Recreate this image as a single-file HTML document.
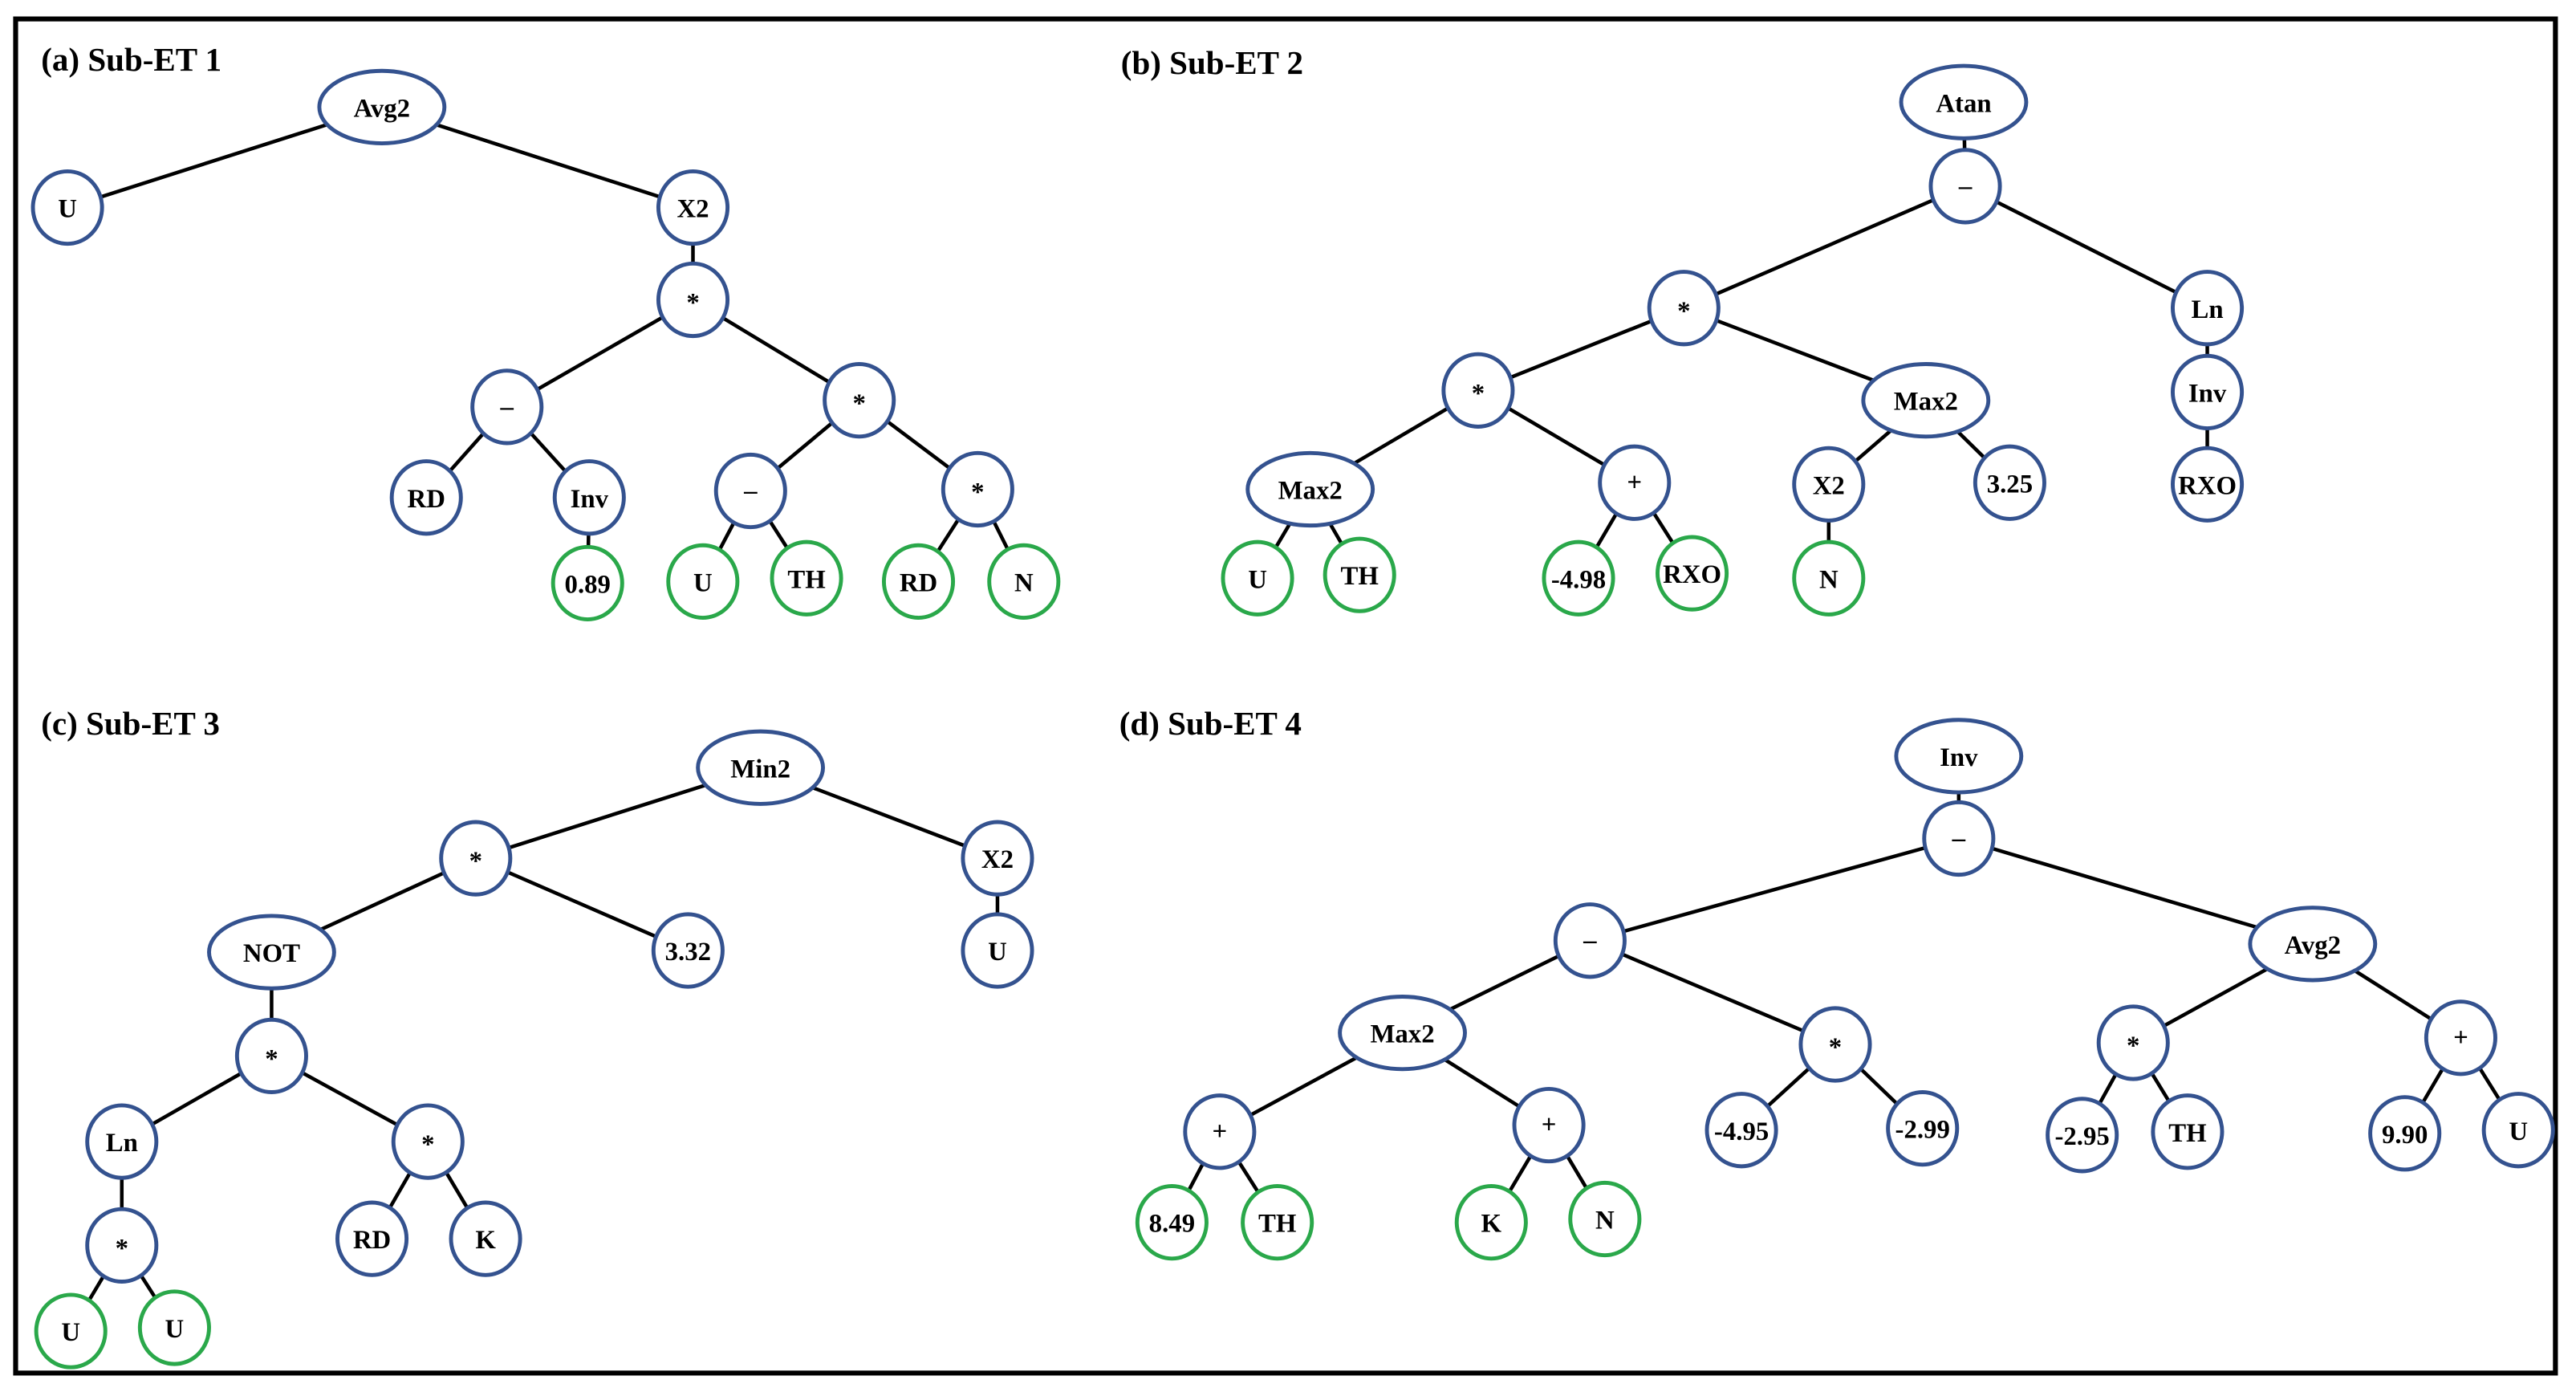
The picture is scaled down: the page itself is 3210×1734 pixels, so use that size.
<!DOCTYPE html>
<html><head><meta charset="utf-8"><style>
html,body{margin:0;padding:0;background:#fff;}
svg{display:block;}
.e{fill:#fff;stroke:#34528f;stroke-width:2.4;}
.g{fill:#fff;stroke:#2aa84a;stroke-width:2.4;}
line{stroke:#000;stroke-width:2.2;}
text{font-family:"Liberation Serif",serif;font-weight:bold;font-size:16px;text-anchor:middle;dominant-baseline:central;fill:#000;}
.t{font-size:20px;text-anchor:start;}
</style></head><body>
<svg width="3210" height="1734" viewBox="0 0 1565 845" preserveAspectRatio="none" xmlns="http://www.w3.org/2000/svg">
<rect x="9.5" y="11.5" width="1543" height="822" fill="none" stroke="#000" stroke-width="3"/>
<text class="t" x="25" y="36">(a) Sub-ET 1</text>
<text class="t" x="681" y="38">(b) Sub-ET 2</text>
<text class="t" x="25" y="439">(c) Sub-ET 3</text>
<text class="t" x="680" y="439">(d) Sub-ET 4</text>
<g>
<!-- a edges -->
<line x1="232" y1="65" x2="41" y2="126"/><line x1="232" y1="65" x2="421" y2="126"/>
<line x1="421" y1="126" x2="421" y2="182"/>
<line x1="421" y1="182" x2="308" y2="247"/><line x1="421" y1="182" x2="522" y2="243"/>
<line x1="308" y1="247" x2="259" y2="302"/><line x1="308" y1="247" x2="358" y2="302"/>
<line x1="358" y1="302" x2="357" y2="354"/>
<line x1="522" y1="243" x2="456" y2="298"/><line x1="522" y1="243" x2="594" y2="297"/>
<line x1="456" y1="298" x2="427" y2="353"/><line x1="456" y1="298" x2="490" y2="351"/>
<line x1="594" y1="297" x2="558" y2="353"/><line x1="594" y1="297" x2="622" y2="353"/>
<!-- b edges -->
<line x1="1193" y1="62" x2="1194" y2="113"/>
<line x1="1194" y1="113" x2="1023" y2="187"/><line x1="1194" y1="113" x2="1341" y2="187"/>
<line x1="1023" y1="187" x2="898" y2="237"/><line x1="1023" y1="187" x2="1170" y2="243"/>
<line x1="1341" y1="187" x2="1341" y2="294"/>
<line x1="898" y1="237" x2="796" y2="297"/><line x1="898" y1="237" x2="993" y2="293"/>
<line x1="1170" y1="243" x2="1111" y2="294"/><line x1="1170" y1="243" x2="1221" y2="293"/>
<line x1="796" y1="297" x2="764" y2="351"/><line x1="796" y1="297" x2="826" y2="349"/>
<line x1="993" y1="293" x2="959" y2="351"/><line x1="993" y1="293" x2="1028" y2="348"/>
<line x1="1111" y1="294" x2="1111" y2="351"/>
<!-- c edges -->
<line x1="462" y1="466" x2="289" y2="521"/><line x1="462" y1="466" x2="606" y2="521"/>
<line x1="606" y1="521" x2="606" y2="577"/>
<line x1="289" y1="521" x2="165" y2="578"/><line x1="289" y1="521" x2="418" y2="577"/>
<line x1="165" y1="578" x2="165" y2="641"/>
<line x1="165" y1="641" x2="74" y2="693"/><line x1="165" y1="641" x2="260" y2="693"/>
<line x1="74" y1="693" x2="74" y2="756"/>
<line x1="260" y1="693" x2="226" y2="752"/><line x1="260" y1="693" x2="295" y2="752"/>
<line x1="74" y1="756" x2="43" y2="808"/><line x1="74" y1="756" x2="106" y2="806"/>
<!-- d edges -->
<line x1="1190" y1="459" x2="1190" y2="509"/>
<line x1="1190" y1="509" x2="966" y2="571"/><line x1="1190" y1="509" x2="1405" y2="573"/>
<line x1="966" y1="571" x2="852" y2="627"/><line x1="966" y1="571" x2="1115" y2="634"/>
<line x1="1405" y1="573" x2="1296" y2="633"/><line x1="1405" y1="573" x2="1495" y2="630"/>
<line x1="852" y1="627" x2="741" y2="687"/><line x1="852" y1="627" x2="941" y2="683"/>
<line x1="1115" y1="634" x2="1058" y2="686"/><line x1="1115" y1="634" x2="1168" y2="685"/>
<line x1="1296" y1="633" x2="1265" y2="689"/><line x1="1296" y1="633" x2="1329" y2="687"/>
<line x1="1495" y1="630" x2="1461" y2="688"/><line x1="1495" y1="630" x2="1530" y2="686"/>
<line x1="741" y1="687" x2="712" y2="742"/><line x1="741" y1="687" x2="776" y2="742"/>
<line x1="941" y1="683" x2="906" y2="742"/><line x1="941" y1="683" x2="975" y2="740"/>
</g>
<!-- a nodes -->
<ellipse class="e" cx="232" cy="65" rx="38" ry="22"/><text x="232" y="66">Avg2</text>
<ellipse class="e" cx="41" cy="126" rx="21" ry="22"/><text x="41" y="127">U</text>
<ellipse class="e" cx="421" cy="126" rx="21" ry="22"/><text x="421" y="127">X2</text>
<ellipse class="e" cx="421" cy="182" rx="21" ry="22"/><text x="421" y="184">*</text>
<ellipse class="e" cx="308" cy="247" rx="21" ry="22"/><text x="308" y="247">–</text>
<ellipse class="e" cx="522" cy="243" rx="21" ry="22"/><text x="522" y="245">*</text>
<ellipse class="e" cx="259" cy="302" rx="21" ry="22"/><text x="259" y="303">RD</text>
<ellipse class="e" cx="358" cy="302" rx="21" ry="22"/><text x="358" y="303">Inv</text>
<ellipse class="g" cx="357" cy="354" rx="21" ry="22"/><text x="357" y="355">0.89</text>
<ellipse class="e" cx="456" cy="298" rx="21" ry="22"/><text x="456" y="298">–</text>
<ellipse class="e" cx="594" cy="297" rx="21" ry="22"/><text x="594" y="299">*</text>
<ellipse class="g" cx="427" cy="353" rx="21" ry="22"/><text x="427" y="354">U</text>
<ellipse class="g" cx="490" cy="351" rx="21" ry="22"/><text x="490" y="352">TH</text>
<ellipse class="g" cx="558" cy="353" rx="21" ry="22"/><text x="558" y="354">RD</text>
<ellipse class="g" cx="622" cy="353" rx="21" ry="22"/><text x="622" y="354">N</text>
<!-- b nodes -->
<ellipse class="e" cx="1193" cy="62" rx="38" ry="22"/><text x="1193" y="63">Atan</text>
<ellipse class="e" cx="1194" cy="113" rx="21" ry="22"/><text x="1194" y="113">–</text>
<ellipse class="e" cx="1023" cy="187" rx="21" ry="22"/><text x="1023" y="189">*</text>
<ellipse class="e" cx="1341" cy="187" rx="21" ry="22"/><text x="1341" y="188">Ln</text>
<ellipse class="e" cx="898" cy="237" rx="21" ry="22"/><text x="898" y="239">*</text>
<ellipse class="e" cx="1170" cy="243" rx="38" ry="22"/><text x="1170" y="244">Max2</text>
<ellipse class="e" cx="1341" cy="238" rx="21" ry="22"/><text x="1341" y="239">Inv</text>
<ellipse class="e" cx="796" cy="297" rx="38" ry="22"/><text x="796" y="298">Max2</text>
<ellipse class="e" cx="993" cy="293" rx="21" ry="22"/><text x="993" y="293">+</text>
<ellipse class="e" cx="1111" cy="294" rx="21" ry="22"/><text x="1111" y="295">X2</text>
<ellipse class="e" cx="1221" cy="293" rx="21" ry="22"/><text x="1221" y="294">3.25</text>
<ellipse class="e" cx="1341" cy="294" rx="21" ry="22"/><text x="1341" y="295">RXO</text>
<ellipse class="g" cx="764" cy="351" rx="21" ry="22"/><text x="764" y="352">U</text>
<ellipse class="g" cx="826" cy="349" rx="21" ry="22"/><text x="826" y="350">TH</text>
<ellipse class="g" cx="959" cy="351" rx="21" ry="22"/><text x="959" y="352">-4.98</text>
<ellipse class="g" cx="1028" cy="348" rx="21" ry="22"/><text x="1028" y="349">RXO</text>
<ellipse class="g" cx="1111" cy="351" rx="21" ry="22"/><text x="1111" y="352">N</text>
<!-- c nodes -->
<ellipse class="e" cx="462" cy="466" rx="38" ry="22"/><text x="462" y="467">Min2</text>
<ellipse class="e" cx="289" cy="521" rx="21" ry="22"/><text x="289" y="523">*</text>
<ellipse class="e" cx="606" cy="521" rx="21" ry="22"/><text x="606" y="522">X2</text>
<ellipse class="e" cx="165" cy="578" rx="38" ry="22"/><text x="165" y="579">NOT</text>
<ellipse class="e" cx="418" cy="577" rx="21" ry="22"/><text x="418" y="578">3.32</text>
<ellipse class="e" cx="606" cy="577" rx="21" ry="22"/><text x="606" y="578">U</text>
<ellipse class="e" cx="165" cy="641" rx="21" ry="22"/><text x="165" y="643">*</text>
<ellipse class="e" cx="74" cy="693" rx="21" ry="22"/><text x="74" y="694">Ln</text>
<ellipse class="e" cx="260" cy="693" rx="21" ry="22"/><text x="260" y="695">*</text>
<ellipse class="e" cx="74" cy="756" rx="21" ry="22"/><text x="74" y="758">*</text>
<ellipse class="e" cx="226" cy="752" rx="21" ry="22"/><text x="226" y="753">RD</text>
<ellipse class="e" cx="295" cy="752" rx="21" ry="22"/><text x="295" y="753">K</text>
<ellipse class="g" cx="43" cy="808" rx="21" ry="22"/><text x="43" y="809">U</text>
<ellipse class="g" cx="106" cy="806" rx="21" ry="22"/><text x="106" y="807">U</text>
<!-- d nodes -->
<ellipse class="e" cx="1190" cy="459" rx="38" ry="22"/><text x="1190" y="460">Inv</text>
<ellipse class="e" cx="1190" cy="509" rx="21" ry="22"/><text x="1190" y="509">–</text>
<ellipse class="e" cx="966" cy="571" rx="21" ry="22"/><text x="966" y="571">–</text>
<ellipse class="e" cx="1405" cy="573" rx="38" ry="22"/><text x="1405" y="574">Avg2</text>
<ellipse class="e" cx="852" cy="627" rx="38" ry="22"/><text x="852" y="628">Max2</text>
<ellipse class="e" cx="1115" cy="634" rx="21" ry="22"/><text x="1115" y="636">*</text>
<ellipse class="e" cx="1296" cy="633" rx="21" ry="22"/><text x="1296" y="635">*</text>
<ellipse class="e" cx="1495" cy="630" rx="21" ry="22"/><text x="1495" y="630">+</text>
<ellipse class="e" cx="741" cy="687" rx="21" ry="22"/><text x="741" y="687">+</text>
<ellipse class="e" cx="941" cy="683" rx="21" ry="22"/><text x="941" y="683">+</text>
<ellipse class="e" cx="1058" cy="686" rx="21" ry="22"/><text x="1058" y="687">-4.95</text>
<ellipse class="e" cx="1168" cy="685" rx="21" ry="22"/><text x="1168" y="686">-2.99</text>
<ellipse class="e" cx="1265" cy="689" rx="21" ry="22"/><text x="1265" y="690">-2.95</text>
<ellipse class="e" cx="1329" cy="687" rx="21" ry="22"/><text x="1329" y="688">TH</text>
<ellipse class="e" cx="1461" cy="688" rx="21" ry="22"/><text x="1461" y="689">9.90</text>
<ellipse class="e" cx="1530" cy="686" rx="21" ry="22"/><text x="1530" y="687">U</text>
<ellipse class="g" cx="712" cy="742" rx="21" ry="22"/><text x="712" y="743">8.49</text>
<ellipse class="g" cx="776" cy="742" rx="21" ry="22"/><text x="776" y="743">TH</text>
<ellipse class="g" cx="906" cy="742" rx="21" ry="22"/><text x="906" y="743">K</text>
<ellipse class="g" cx="975" cy="740" rx="21" ry="22"/><text x="975" y="741">N</text>
</svg>
</body></html>
